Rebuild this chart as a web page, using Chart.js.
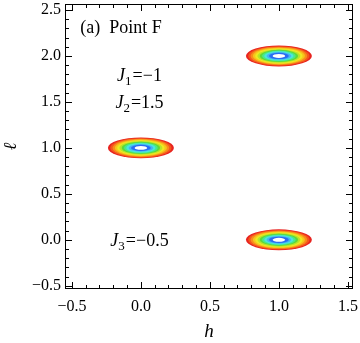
<!DOCTYPE html>
<html>
<head>
<meta charset="utf-8">
<script src="https://cdn.jsdelivr.net/npm/chart.js@4.4.0/dist/chart.umd.min.js"></script>
<style>
  html, body { margin: 0; padding: 0; background: #fff; }
  #wrap { width: 360px; height: 343px; }
</style>
</head>
<body>
<div id="wrap"><canvas id="chart" width="360" height="343"></canvas></div>
<script>
// axis ticks
const hTicks = [-0.5, 0, 0.5, 1, 1.5];
const lTicks = [-0.5, 0, 0.5, 1, 1.5, 2, 2.5];

// peak positions (h, l)
const peakH = [0, 1, 1];
const peakL = [1, 2, 0];

// contour rings: outer semi-axes in data units, then fraction of outer for each level
const outerRadiusH = 0.239;
const outerRadiusL = 0.114;
const ringFrac = [1.0, 0.93, 0.86, 0.79, 0.72, 0.65, 0.58, 0.51, 0.44, 0.37, 0.30, 0.19];
const ringColors = ['#e8231f', '#f4561c', '#f98c1b', '#f6c51b', '#eeea22', '#b5e52a',
                    '#5cd93a', '#48e88c', '#4ae6df', '#45b4f2', '#2a6cf2', '#ffffff'];

// text labels in data coords
const notes = [
    { h: -0.44, l: 2.25, align: 'left', parts: [{ t: '(a)  Point F' }] },
    { h: -0.01, l: 1.73, align: 'center', parts: [{ t: 'J', it: true }, { t: '1', sub: true }, { t: '=−1' }] },
    { h: -0.01, l: 1.435, align: 'center', parts: [{ t: 'J', it: true }, { t: '2', sub: true }, { t: '=1.5' }] },
    { h: -0.01, l: -0.065, align: 'center', parts: [{ t: 'J', it: true }, { t: '3', sub: true }, { t: '=−0.5' }] }
];

const SERIF = "'Liberation Serif', 'Times New Roman', serif";

function fmt(v) {
    return (v < 0 ? '−' : '') + Math.abs(v).toFixed(1);
}

// 등고선 (타원 링) 그리기
const contourPlugin = {
    id: 'contours',
    beforeDatasetsDraw(chart) {
        const { ctx, scales: { x, y }, chartArea } = chart;
        ctx.save();
        ctx.beginPath();
        ctx.rect(chartArea.left, chartArea.top, chartArea.width, chartArea.height);
        ctx.clip();
        peakH.forEach((h, i) => {
            const cx = x.getPixelForValue(h);
            const cy = y.getPixelForValue(peakL[i]);
            ringFrac.forEach((f, k) => {
                const rx = Math.abs(x.getPixelForValue(h + outerRadiusH * f) - cx);
                const ry = Math.abs(y.getPixelForValue(peakL[i] + outerRadiusL * f) - cy);
                ctx.beginPath();
                ctx.ellipse(cx, cy, rx, ry, 0, 0, Math.PI * 2);
                ctx.fillStyle = ringColors[k];
                ctx.fill();
            });
        });
        ctx.restore();
    }
};

// 프레임 + 안쪽 눈금 + 라벨
const framePlugin = {
    id: 'frame',
    afterDraw(chart) {
        const { ctx, scales: { x, y }, chartArea: a } = chart;
        ctx.save();
        ctx.strokeStyle = '#000';
        ctx.lineWidth = 1;
        ctx.strokeRect(a.left + 0.5, a.top + 0.5, a.width - 1, a.height - 1);
        ctx.beginPath();
        for (let i = -5; i <= 15; i++) {
            const px = Math.round(x.getPixelForValue(i / 10)) + 0.5;
            const len = i % 5 === 0 ? 7 : 4;
            ctx.moveTo(px, a.bottom); ctx.lineTo(px, a.bottom - len);
            ctx.moveTo(px, a.top); ctx.lineTo(px, a.top + len);
        }
        for (let i = -5; i <= 25; i++) {
            const py = Math.round(y.getPixelForValue(i / 10)) + 0.5;
            const len = i % 5 === 0 ? 7 : 4;
            ctx.moveTo(a.left, py); ctx.lineTo(a.left + len, py);
            ctx.moveTo(a.right, py); ctx.lineTo(a.right - len, py);
        }
        ctx.stroke();

        ctx.fillStyle = '#000';
        ctx.textBaseline = 'alphabetic';
        notes.forEach(n => {
            const fonts = n.parts.map(p => (p.it ? 'italic ' : '') + (p.sub ? '13px ' : '18px ') + SERIF);
            let total = 0;
            const widths = n.parts.map((p, k) => {
                ctx.font = fonts[k];
                const w = ctx.measureText(p.t).width + (p.sub ? 1 : 0);
                total += w;
                return w;
            });
            let px = x.getPixelForValue(n.h);
            if (n.align === 'center') px -= total / 2;
            const py = y.getPixelForValue(n.l);
            n.parts.forEach((p, k) => {
                ctx.font = fonts[k];
                ctx.fillText(p.t, px, py + (p.sub ? 4 : 0));
                px += widths[k];
            });
        });
        ctx.restore();
    }
};

new Chart(document.getElementById('chart'), {
    type: 'scatter',
    data: {
        datasets: [{
            data: peakH.map((h, i) => ({ x: h, y: peakL[i] })),
            pointRadius: 0
        }]
    },
    options: {
        responsive: false,
        animation: false,
        devicePixelRatio: 1,
        layout: { padding: { left: 0, right: 7, top: 4, bottom: 0 } },
        plugins: { legend: { display: false }, tooltip: { enabled: false } },
        scales: {
            x: {
                type: 'linear',
                min: -0.55, max: 1.537,
                afterBuildTicks: s => { s.ticks = hTicks.map(v => ({ value: v })); },
                afterFit: s => { s.height = 54; s.paddingLeft = 0; s.paddingRight = 0; },
                grid: { display: false, drawTicks: false, tickLength: 0 },
                border: { display: false },
                ticks: {
                    callback: v => fmt(v),
                    font: { family: SERIF, size: 16 },
                    color: '#000',
                    padding: 8,
                    maxRotation: 0,
                    autoSkip: false
                },
                title: {
                    display: true, text: 'h', color: '#000',
                    font: { family: SERIF, size: 19, style: 'italic' },
                    padding: { top: 0, bottom: 0 }
                }
            },
            y: {
                type: 'linear',
                min: -0.535, max: 2.565,
                afterBuildTicks: s => { s.ticks = lTicks.map(v => ({ value: v })); },
                afterFit: s => { s.width = 65; s.paddingTop = 0; s.paddingBottom = 0; },
                grid: { display: false, drawTicks: false, tickLength: 0 },
                border: { display: false },
                ticks: {
                    callback: v => fmt(v),
                    font: { family: SERIF, size: 16 },
                    color: '#000',
                    padding: 4,
                    autoSkip: false
                },
                title: {
                    display: true, text: 'ℓ', color: '#000',
                    font: { family: SERIF, size: 18, style: 'italic' },
                    padding: { top: 0, bottom: 0 }
                }
            }
        }
    },
    plugins: [contourPlugin, framePlugin]
});
</script>
</body>
</html>
